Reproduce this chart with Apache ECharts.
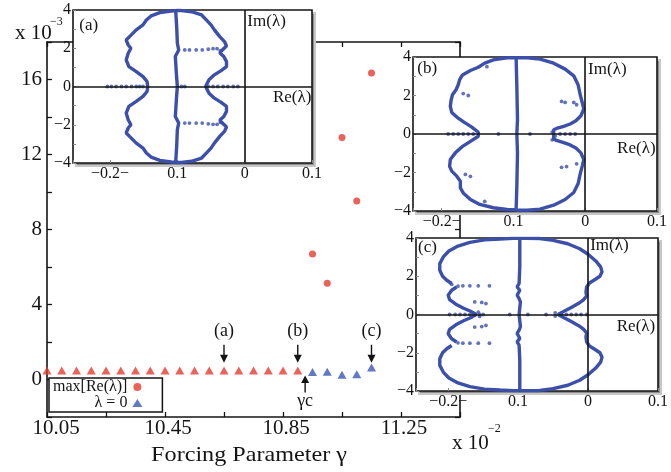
<!DOCTYPE html>
<html>
<head>
<meta charset="utf-8">
<script src="https://cdn.jsdelivr.net/npm/echarts@6/dist/echarts.min.js"></script>
<style>
  html, body { margin: 0; padding: 0; background: #fff; }
  #chart { width: 671px; height: 472px; }
</style>
</head>
<body>
<div id="chart"></div>
<script>
const SERIF = '"Liberation Serif", "DejaVu Serif", serif';
const INK = '#141414';
const RED = '#e63b2e';
const BLUE = '#3b56b6';
const SPEC = '#3c50aa';

// ---- main plot: eigenvalue growth vs forcing parameter (values x 10^-3) ----
const gammaTri = [10.05, 10.10, 10.15, 10.20, 10.25, 10.30, 10.35, 10.40, 10.45, 10.50,
                  10.55, 10.60, 10.65, 10.70, 10.75, 10.80, 10.85, 10.90,
                  10.95, 11.00, 11.05, 11.10, 11.15];
const lambdaZero = [0.48, 0.48, 0.48, 0.48, 0.48, 0.48, 0.48, 0.48, 0.48, 0.48,
                    0.48, 0.48, 0.48, 0.48, 0.48, 0.48, 0.48, 0.48,
                    0.40, 0.42, 0.25, 0.28, 0.64];
const gammaCirc = [10.95, 11.00, 11.05, 11.10, 11.15];
const maxReLambda = [6.70, 5.14, 12.91, 9.52, 16.35];
const gammaC = 10.925;
const xTickLabels = [10.05, 10.45, 10.85, 11.25];
const yTickLabels = [0, 4, 8, 12, 16];
const markGamma = [10.65, 10.90, 11.15];
const markText = ['(a)', '(b)', '(c)'];

// ---- inset spectra: Re(λ), Im(λ) pairs ----
const insetReTicks = [-0.2, -0.1, 0, 0.1];
const insetReLabels = ['\u22120.2\u2212', '0.1', '0', '0.1'];
const insetImLabels = [4, 2, 0, -2, -4];

const aCenter = [[-0.1025,3.97],[-0.101,3.13],[-0.100,2.26],[-0.098,1.91],[-0.103,1.57],[-0.1015,0.70],[-0.100,0],
  [-0.1015,-0.70],[-0.103,-1.57],[-0.098,-1.91],[-0.100,-2.26],[-0.101,-3.13],[-0.1025,-3.97]];
const aLeft = [[-0.102,3.97],[-0.109,3.95],[-0.126,3.86],[-0.139,3.69],[-0.146,3.48],[-0.151,3.22],[-0.161,2.96],
  [-0.171,2.61],[-0.176,2.43],[-0.173,2.17],[-0.169,2.00],[-0.173,1.74],[-0.176,1.39],[-0.172,1.04],[-0.161,0.78],
  [-0.151,0.52],[-0.145,0.26],[-0.144,0],[-0.145,-0.26],[-0.151,-0.52],[-0.161,-0.78],[-0.172,-1.04],[-0.176,-1.39],
  [-0.173,-1.74],[-0.169,-2.00],[-0.173,-2.17],[-0.176,-2.43],[-0.171,-2.61],[-0.161,-2.96],[-0.151,-3.22],
  [-0.146,-3.48],[-0.139,-3.69],[-0.126,-3.86],[-0.109,-3.95],[-0.102,-3.97]];
const aRight = [[-0.102,3.97],[-0.094,3.97],[-0.079,3.91],[-0.064,3.74],[-0.057,3.48],[-0.050,3.22],[-0.045,2.96],
  [-0.037,2.61],[-0.030,2.35],[-0.027,2.12],[-0.032,1.95],[-0.037,1.77],[-0.031,1.57],[-0.027,1.30],[-0.027,1.04],
  [-0.035,0.83],[-0.045,0.61],[-0.053,0.35],[-0.058,0],[-0.053,-0.35],[-0.045,-0.61],[-0.035,-0.83],[-0.027,-1.04],
  [-0.027,-1.30],[-0.031,-1.57],[-0.037,-1.77],[-0.032,-1.95],[-0.027,-2.12],[-0.030,-2.35],[-0.037,-2.61],
  [-0.045,-2.96],[-0.050,-3.22],[-0.057,-3.48],[-0.064,-3.74],[-0.079,-3.91],[-0.094,-3.97],[-0.102,-3.97]];
const aDots = [[-0.089,1.91],[-0.082,1.91],[-0.072,1.91],[-0.063,1.91],[-0.054,1.95],[-0.047,1.98],[-0.041,1.98],[-0.036,1.88],
  [-0.089,-1.91],[-0.082,-1.91],[-0.072,-1.91],[-0.063,-1.91],[-0.054,-1.95],[-0.047,-1.98],[-0.041,-1.98],[-0.036,-1.88],
  [-0.204,0],[-0.198,0],[-0.191,0],[-0.183,0],[-0.176,0],[-0.168,0],[-0.161,0],[-0.156,0],[-0.151,0],
  [-0.094,0],[-0.089,0],[-0.054,0],[-0.047,0],[-0.040,0],[-0.032,0],[-0.025,0],[-0.017,0],[-0.010,0]];

const bCenter = [[-0.0963,3.94],[-0.0953,2.47],[-0.0944,0.74],[-0.0953,0],[-0.0944,-0.98],[-0.0953,-2.71],[-0.0963,-3.92]];
const bLeft = [[-0.096,3.96],[-0.109,3.96],[-0.128,3.85],[-0.140,3.68],[-0.149,3.47],[-0.160,3.30],[-0.171,3.07],
  [-0.175,2.82],[-0.177,2.56],[-0.180,2.30],[-0.185,2.04],[-0.187,1.74],[-0.188,1.43],[-0.186,1.12],[-0.179,0.88],
  [-0.169,0.62],[-0.158,0.36],[-0.149,0.09],[-0.147,0],[-0.149,-0.12],[-0.160,-0.38],[-0.172,-0.67],[-0.181,-0.98],
  [-0.188,-1.33],[-0.189,-1.68],[-0.186,-1.93],[-0.179,-2.19],[-0.174,-2.45],[-0.174,-2.80],[-0.170,-3.06],
  [-0.160,-3.40],[-0.147,-3.66],[-0.128,-3.83],[-0.109,-3.92],[-0.096,-3.94]];
const bRight = [[-0.096,3.96],[-0.081,3.96],[-0.063,3.89],[-0.044,3.68],[-0.028,3.37],[-0.016,3.02],[-0.010,2.56],
  [-0.007,2.04],[-0.004,1.61],[-0.002,1.30],[-0.006,0.95],[-0.013,0.69],[-0.021,0.52],[-0.030,0.40],[-0.040,0.29],
  [-0.044,0.22],[-0.044,-0.26],[-0.040,-0.33],[-0.030,-0.45],[-0.021,-0.57],[-0.013,-0.73],[-0.006,-0.98],
  [-0.002,-1.33],[-0.004,-1.64],[-0.007,-2.07],[-0.010,-2.59],[-0.016,-3.04],[-0.028,-3.40],[-0.044,-3.70],
  [-0.063,-3.90],[-0.081,-3.96],[-0.096,-3.96]];
const bDots = [[-0.033,1.69],[-0.028,1.64],[-0.016,1.64],[-0.012,1.52],[-0.033,-1.73],[-0.026,-1.69],[-0.012,-1.55],
  [-0.191,0],[-0.184,0],[-0.177,0],[-0.170,0],[-0.163,0],[-0.156,0],[-0.121,0],[-0.077,0],
  [-0.035,0],[-0.028,0],[-0.021,0],[-0.014,0],[-0.046,0.1],[-0.042,-0.1],[-0.046,-0.3],
  [-0.170,2.1],[-0.163,2.0],[-0.167,-2.1],[-0.160,-2.2],[-0.137,3.5],[-0.140,-3.5]];

const cCenter = [[-0.0976,3.97],[-0.0976,2.49],[-0.0986,1.62],[-0.1014,1.44],[-0.0976,1.27],[-0.1014,1.01],[-0.0986,0.83],
  [-0.0967,0.66],[-0.0986,0],[-0.0967,-0.64],[-0.0986,-0.82],[-0.1014,-0.99],[-0.0976,-1.25],[-0.1014,-1.43],
  [-0.0986,-1.60],[-0.0976,-2.38],[-0.0976,-3.95]];
const cLeftTop = [[-0.098,3.98],[-0.107,3.98],[-0.126,3.95],[-0.148,3.90],[-0.169,3.77],[-0.186,3.58],[-0.199,3.32],
  [-0.207,3.01],[-0.212,2.66],[-0.212,2.31],[-0.208,2.00],[-0.202,1.79],[-0.195,1.62]];
const cLeftBottom = [[-0.195,-1.62],[-0.202,-1.79],[-0.208,-2.00],[-0.212,-2.31],[-0.212,-2.66],[-0.207,-3.01],
  [-0.199,-3.32],[-0.186,-3.58],[-0.169,-3.77],[-0.148,-3.90],[-0.126,-3.95],[-0.107,-3.98],[-0.098,-3.98]];
const cLeftV = [[-0.188,1.44],[-0.195,1.27],[-0.200,1.01],[-0.198,0.78],[-0.189,0.54],[-0.178,0.33],[-0.168,0.17],
  [-0.160,0],[-0.168,-0.17],[-0.178,-0.33],[-0.189,-0.54],[-0.198,-0.78],[-0.200,-1.01],[-0.195,-1.27],[-0.188,-1.44]];
const cRight = [[-0.098,3.98],[-0.088,3.98],[-0.069,3.97],[-0.050,3.88],[-0.029,3.70],[-0.012,3.44],[0.000,3.15],
  [0.011,2.80],[0.018,2.49],[0.020,2.23],[0.017,2.00],[0.010,1.83],[0.002,1.65],[-0.002,1.44],[-0.003,1.18],
  [-0.002,0.96],[-0.007,0.75],[-0.014,0.57],[-0.024,0.37],[-0.033,0.19],[-0.043,0],[-0.033,-0.19],[-0.024,-0.37],
  [-0.014,-0.57],[-0.007,-0.75],[-0.002,-0.96],[-0.003,-1.18],[-0.002,-1.44],[0.002,-1.65],[0.010,-1.83],
  [0.017,-2.00],[0.020,-2.23],[0.018,-2.49],[0.011,-2.80],[0.000,-3.15],[-0.012,-3.44],[-0.029,-3.70],
  [-0.050,-3.88],[-0.069,-3.97],[-0.088,-3.98],[-0.098,-3.98]];
const cDots = [[-0.195,1.58],[-0.186,1.48],[-0.179,1.50],[-0.169,1.50],[-0.157,1.50],[-0.141,1.50],
  [-0.162,0.66],[-0.152,0.63],[-0.146,0.57],[-0.186,-1.48],[-0.179,-1.50],[-0.169,-1.50],[-0.157,-1.50],[-0.141,-1.50],
  [-0.162,-0.66],[-0.152,-0.63],[-0.146,-0.57],
  [-0.198,0],[-0.190,0],[-0.183,0],[-0.176,0],[-0.169,0],[-0.155,0],[-0.150,0],[-0.112,0],[-0.086,0],[-0.060,0],
  [-0.038,0],[-0.031,0],[-0.024,0],[-0.017,0],[-0.010,0],[-0.002,0],
  [-0.157,0.12],[-0.155,-0.1],[-0.047,0.08],[-0.047,-0.08]];

// Inset panels: frame box, Re range start, curves, dotted eigenvalues, tag/axis-name anchors
const insets = [
  { box: [73, 10, 239, 153], reMin: -0.255, center: aCenter, curves: [aLeft, aRight], dots: aDots,
    tag: '(a)', tagAt: [-0.2457, 3.18], imAt: [0.004, 3.39], reAt: [0.099, -0.57] },
  { box: [413, 57, 244, 154], reMin: -0.240, center: bCenter, curves: [bLeft, bRight], dots: bDots,
    tag: '(b)', tagAt: [-0.234, 3.42], imAt: [0.004, 3.37], reAt: [0.098, -0.73] },
  { box: [416, 238, 242, 153], reMin: -0.246, center: cCenter, curves: [cLeftTop, cLeftBottom, cLeftV, cRight], dots: cDots,
    tag: '(c)', tagAt: [-0.243, 3.5], imAt: [0.003, 3.6], reAt: [0.096, -0.63] }
];

const near = (a, b) => Math.abs(a - b) < 1e-6;

const grids = [{ left: 47, top: 42, right: 211, bottom: 55, z: 0 }];
const xAxes = [];
const yAxes = [];
const series = [];

const mainX = {
  gridIndex: 0, type: 'value', min: 10.05, max: 11.45, interval: 0.2, z: 1,
  axisLine: { onZero: false, lineStyle: { color: INK, width: 1.6 } },
  axisTick: { inside: true, length: 5, lineStyle: { color: INK, width: 1.3 } },
  splitLine: { show: false }
};
xAxes.push(Object.assign({}, mainX, {
  position: 'bottom',
  axisLabel: {
    margin: 1, color: INK, fontFamily: SERIF, fontSize: 21,
    formatter: v => {
      const hit = xTickLabels.find(t => near(t, v));
      if (hit === undefined) return '';
      return (hit === xTickLabels[0] ? '{f|' : '{n|') + hit.toFixed(2) + '}';
    },
    rich: {
      f: { padding: [0, 0, 0, 18], fontFamily: SERIF, fontSize: 21, color: INK },
      n: { padding: [0, 0, 0, 6], fontFamily: SERIF, fontSize: 21, color: INK }
    }
  }
}));
xAxes.push(Object.assign({}, mainX, { position: 'top', axisLabel: { show: false } }));

const mainY = {
  gridIndex: 0, type: 'value', min: -2, max: 18, interval: 2, z: 1,
  axisLine: { onZero: false, lineStyle: { color: INK, width: 1.6 } },
  axisTick: { inside: true, length: 5, lineStyle: { color: INK, width: 1.3 } },
  splitLine: { show: false }
};
yAxes.push(Object.assign({}, mainY, {
  position: 'left',
  axisLabel: {
    margin: 5, color: INK, fontFamily: SERIF, fontSize: 21,
    formatter: v => (yTickLabels.some(t => near(t, v)) ? String(v) : '')
  }
}));
yAxes.push(Object.assign({}, mainY, { position: 'right', axisLabel: { show: false } }));

const arrowDown = 'path://M3.3,0 L4.7,0 L4.7,10 L8,10 L4,18 L0,10 L3.3,10 Z';
const arrowUp = 'path://M4,0 L8,8 L4.7,8 L4.7,18 L3.3,18 L3.3,8 L0,8 Z';

series.push({
  name: '\u03bb = 0', type: 'scatter', xAxisIndex: 0, yAxisIndex: 0, z: 3,
  symbol: 'triangle', symbolSize: [9, 8],
  itemStyle: { color: BLUE },
  data: gammaTri.map((g, i) => g < gammaC
    ? { value: [g, lambdaZero[i]], itemStyle: { color: RED } }
    : { value: [g, lambdaZero[i]] }),
  markPoint: {
    silent: true, z: 4,
    itemStyle: { color: INK },
    data: markGamma.map((g, i) => ({
      coord: [g, 0.9], symbol: arrowDown, symbolSize: [8, 18], symbolOffset: [0, -9],
      label: { show: true, position: 'top', distance: 4, formatter: markText[i],
               fontFamily: SERIF, fontSize: 18, color: INK }
    })).concat([{
      coord: [gammaC, 0.21], symbol: arrowUp, symbolSize: [8, 17], symbolOffset: [0, 8.5],
      label: { show: true, position: 'bottom', distance: 0, formatter: '\u03b3c',
               fontFamily: SERIF, fontSize: 18, color: INK }
    }])
  }
});
series.push({
  name: 'max[Re(\u03bb)]', type: 'scatter', xAxisIndex: 0, yAxisIndex: 0, z: 3,
  symbol: 'circle', symbolSize: 7,
  itemStyle: { color: RED },
  data: gammaCirc.map((g, i) => [g, maxReLambda[i]])
});

insets.forEach(p => {
  // grey drop-shadow panel, offset down-right behind the inset frame (axes hidden)
  const sg = grids.length;
  grids.push({
    left: p.box[0] + 3, top: p.box[1] + 3, width: p.box[2], height: p.box[3], z: 9,
    show: true, backgroundColor: '#8f8f8f', borderColor: '#c8c8c8', borderWidth: 2
  });
  xAxes.push({ gridIndex: sg, type: 'value', show: false, min: 0, max: 1 });
  yAxes.push({ gridIndex: sg, type: 'value', show: false, min: 0, max: 1 });

  const gi = grids.length;
  grids.push({
    left: p.box[0], top: p.box[1], width: p.box[2], height: p.box[3], z: 10,
    show: true, backgroundColor: '#fff', borderColor: INK, borderWidth: 1.6
  });
  const xi = xAxes.length, yi = yAxes.length;
  xAxes.push({
    gridIndex: gi, type: 'value', min: p.reMin, max: 0.1, minInterval: 0.1, maxInterval: 0.1, z: 11,
    axisLine: { show: false, onZero: false },
    axisTick: { inside: true, length: 3, lineStyle: { color: '#8a8a8a' } },
    splitLine: { show: false },
    axisLabel: {
      margin: 3, color: INK, fontFamily: SERIF, fontSize: 16, showMinLabel: true, showMaxLabel: true,
      formatter: v => {
        const i = insetReTicks.findIndex(t => near(t, v));
        return i < 0 ? '' : insetReLabels[i];
      }
    }
  });
  yAxes.push({
    gridIndex: gi, type: 'value', min: -4, max: 4, interval: 1, z: 11,
    axisLine: { show: false, onZero: false },
    axisTick: { inside: true, length: 3, lineStyle: { color: '#8a8a8a' } },
    splitLine: { show: false },
    axisLabel: {
      margin: 2, color: INK, fontFamily: SERIF, fontSize: 16,
      formatter: v => (insetImLabels.some(t => near(t, v)) ? String(v).replace('-', '\u2212') : '')
    }
  });
  const lineBase = {
    type: 'line', xAxisIndex: xi, yAxisIndex: yi, z: 12, silent: true,
    showSymbol: false, symbol: 'none', lineStyle: { color: SPEC, width: 3.4 }
  };
  series.push(Object.assign({}, lineBase, {
    data: p.center,
    markLine: {
      silent: true, symbol: 'none', z: 13, animation: false,
      lineStyle: { color: INK, width: 1.6, type: 'solid' },
      label: { show: false },
      data: [{ xAxis: 0 }, { yAxis: 0 }]
    }
  }));
  p.curves.forEach(c => series.push(Object.assign({}, lineBase, { data: c })));
  series.push({
    type: 'scatter', xAxisIndex: xi, yAxisIndex: yi, z: 12, silent: true,
    symbol: 'circle', symbolSize: 3.8, itemStyle: { color: SPEC },
    data: p.dots,
    markPoint: {
      silent: true, z: 14, symbol: 'circle', symbolSize: 0,
      label: { show: true, distance: 0, fontFamily: SERIF, fontSize: 17, color: INK },
      data: [
        { coord: p.tagAt, label: { position: 'right', formatter: p.tag } },
        { coord: p.imAt, label: { position: 'right', formatter: 'Im(\u03bb)' } },
        { coord: p.reAt, label: { position: 'left', formatter: 'Re(\u03bb)' } }
      ]
    }
  });
});

const titleTexts = [
  { type: 'text', x: 249, y: 455, scaleX: 1.15, z: 30,
    style: { text: 'Forcing Parameter \u03b3', font: '21px ' + SERIF, fill: INK,
             align: 'center', verticalAlign: 'middle' } },
  { type: 'text', x: 15, y: 33, z: 30,
    style: { text: 'x 10', font: '21px ' + SERIF, fill: INK, align: 'left', verticalAlign: 'middle' } },
  { type: 'text', x: 50, y: 22, z: 30,
    style: { text: '\u22123', font: '12px ' + SERIF, fill: INK, align: 'left', verticalAlign: 'middle' } },
  { type: 'text', x: 452, y: 443, z: 30,
    style: { text: 'x 10', font: '21px ' + SERIF, fill: INK, align: 'left', verticalAlign: 'middle' } },
  { type: 'text', x: 488, y: 429, z: 30,
    style: { text: '\u22122', font: '12px ' + SERIF, fill: INK, align: 'left', verticalAlign: 'middle' } }
];

const chart = echarts.init(document.getElementById('chart'));
chart.setOption({
  animation: false,
  grid: grids,
  xAxis: xAxes,
  yAxis: yAxes,
  legend: {
    data: ['max[Re(\u03bb)]', '\u03bb = 0'],
    orient: 'vertical', align: 'right',
    left: 49, top: 378, z: 20,
    padding: [1, 20, 1, 4], itemGap: 0, itemWidth: 10, itemHeight: 8,
    backgroundColor: '#fff', borderColor: INK, borderWidth: 1.5, borderRadius: 0,
    textStyle: { fontFamily: SERIF, fontSize: 16, color: INK, lineHeight: 16 },
    selectedMode: false
  },
  graphic: { elements: titleTexts },
  series: series
});
</script>
</body>
</html>
